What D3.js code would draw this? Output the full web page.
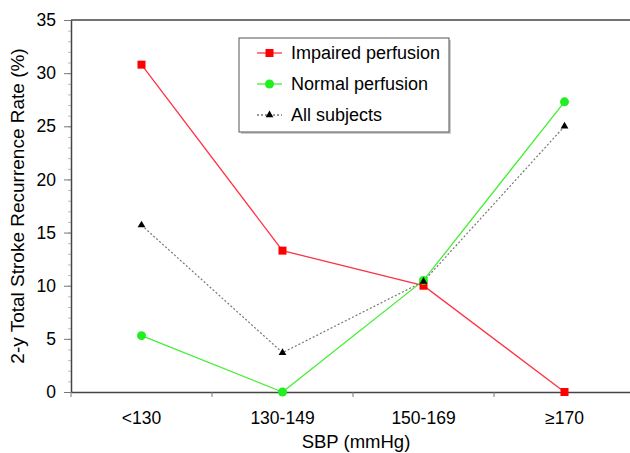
<!DOCTYPE html>
<html>
<head>
<meta charset="utf-8">
<script src="https://cdn.jsdelivr.net/npm/d3@7"></script>
<style>
  body { margin: 0; background: #fff; }
  text { font-family: "Liberation Sans", Arial, sans-serif; fill: #000; }
</style>
</head>
<body>
<script>
const width = 630, height = 453;
const margin = { top: 20, left: 71, bottom: 61 };
const plotRight = 635;

const categories = ["<130", "130-149", "150-169", "≥170"];
const impaired = [30.8, 13.3, 10.0, 0];
const normal = [5.3, 0, 10.5, 27.3];
const allSubjects = [15.7, 3.7, 10.4, 25.0];
const yTicks = [0, 5, 10, 15, 20, 25, 30, 35];

const svg = d3.select("body").append("svg").attr("width", width).attr("height", height);

const x = d3.scaleBand().domain(categories).range([margin.left, plotRight]);
const y = d3.scaleLinear().domain([0, 35]).range([height - margin.bottom, margin.top]);
const cx = d => x(d) + x.bandwidth() / 2;

// frame top
svg.append("line")
  .attr("x1", margin.left).attr("x2", plotRight)
  .attr("y1", y(35)).attr("y2", y(35))
  .attr("stroke", "#444").attr("stroke-width", 1.5);

// y axis minor ticks
const yAxisG = svg.append("g").attr("transform", `translate(${margin.left},0)`);
yAxisG.call(d3.axisLeft(y).tickValues(d3.range(0, 36, 1)).tickSize(3).tickFormat(""))
  .call(g => g.select(".domain").remove())
  .call(g => g.selectAll("line").attr("stroke", "#bbb"));

const yMajor = svg.append("g").attr("transform", `translate(${margin.left},0)`)
  .call(d3.axisLeft(y).tickValues(yTicks).tickSize(7).tickSizeOuter(0).tickPadding(8));
yMajor.select(".domain").attr("stroke", "#444").attr("stroke-width", 1.5);
yMajor.selectAll("line").attr("stroke", "#777");
yMajor.selectAll("text").attr("font-size", 17.5);

// x axis
const xAxisG = svg.append("g").attr("transform", `translate(0,${y(0)})`)
  .call(d3.axisBottom(x).tickSize(0).tickPadding(20));
xAxisG.select(".domain").attr("stroke", "#444").attr("stroke-width", 1.5);
xAxisG.selectAll("text").attr("font-size", 17.5);

// band boundary ticks
svg.append("g").selectAll("line")
  .data(categories)
  .enter().append("line")
  .attr("x1", d => x(d)).attr("x2", d => x(d))
  .attr("y1", y(0)).attr("y2", y(0) + 5)
  .attr("stroke", "#777");

// axis titles
svg.append("text")
  .attr("transform", `translate(24,${(y(0) + y(35)) / 2}) rotate(-90)`)
  .attr("text-anchor", "middle")
  .attr("font-size", 19)
  .text("2-y Total Stroke Recurrence Rate (%)");

svg.append("text")
  .attr("x", 356)
  .attr("y", 448)
  .attr("text-anchor", "middle")
  .attr("font-size", 18.5)
  .text("SBP (mmHg)");

const line = d3.line().x((d, i) => cx(categories[i])).y(d => y(d));

const series = [
  { name: "Impaired perfusion", values: impaired, color: "#ff3344", dash: null, marker: "square" },
  { name: "Normal perfusion", values: normal, color: "#44ee33", dash: null, marker: "circle" },
  { name: "All subjects", values: allSubjects, color: "#777", dash: "2,2", marker: "triangle" }
];

const markerFill = { square: "#ff0000", circle: "#22ee22", triangle: "#000" };

function drawMarker(g, type, px, py) {
  if (type === "square") {
    g.append("rect").attr("x", px - 4).attr("y", py - 4).attr("width", 8).attr("height", 8)
      .attr("fill", markerFill.square);
  } else if (type === "circle") {
    g.append("circle").attr("cx", px).attr("cy", py).attr("r", 4.5).attr("fill", markerFill.circle);
  } else {
    g.append("path").attr("d", d3.symbol(d3.symbolTriangle, 26)())
      .attr("transform", `translate(${px},${py})`).attr("fill", markerFill.triangle);
  }
}

series.forEach(s => {
  svg.append("path")
    .datum(s.values)
    .attr("d", line)
    .attr("fill", "none")
    .attr("stroke", s.color)
    .attr("stroke-width", s.dash ? 1.2 : 1.3)
    .attr("stroke-dasharray", s.dash);
});
series.forEach(s => {
  const g = svg.append("g");
  s.values.forEach((v, i) => drawMarker(g, s.marker, cx(categories[i]), y(v)));
});

// legend
const legend = svg.append("g").attr("transform", "translate(239,38)");
legend.append("rect").attr("x", 2).attr("y", 2).attr("width", 210).attr("height", 94).attr("fill", "#ccc");
legend.append("rect").attr("width", 210).attr("height", 94).attr("fill", "#fff")
  .attr("stroke", "#555").attr("stroke-width", 1);

series.forEach((s, i) => {
  const ly = 15 + i * 31;
  const item = legend.append("g");
  item.append("line").attr("x1", 18).attr("x2", 43).attr("y1", ly).attr("y2", ly)
    .attr("stroke", s.color).attr("stroke-width", 1.3).attr("stroke-dasharray", s.dash);
  drawMarker(item, s.marker, 30.5, ly);
  item.append("text").attr("x", 52).attr("y", ly + 6).attr("font-size", 18).text(s.name);
});
</script>
</body>
</html>
